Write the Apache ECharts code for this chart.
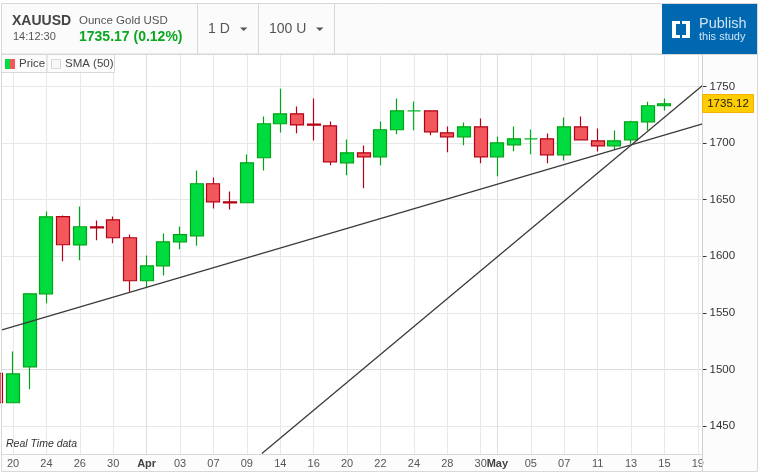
<!DOCTYPE html>
<html><head><meta charset="utf-8">
<style>html,body{margin:0;padding:0;background:#fff}#c{width:760px;height:473px}</style>
<script src="https://cdn.jsdelivr.net/npm/echarts@6/dist/echarts.min.js"></script>
</head><body><div id="c"></div>
<script>
const opens  = [1496.6,1470.5,1502.3,1566.8,1635,1610,1626,1632.1,1616.3,1578.3,1591.5,1612.7,1618,1664,1648,1647.2,1687,1717,1725.8,1716.6,1715.2,1682.5,1691.3,1687.8,1711.7,1728.4,1728.4,1709,1705.5,1714.3,1687.8,1698.4,1703.7,1703.7,1689.6,1714.3,1701.9,1697.5,1702.8,1718.7,1732.9];
const closes = [1470.5,1496,1566.8,1634.8,1610.1,1626,1625,1616.3,1578.3,1591.5,1612.7,1619,1664,1648,1647,1682.5,1717,1725.8,1716,1715.7,1683.4,1691.3,1687.8,1711.7,1728.4,1728.4,1709.9,1705.5,1714.3,1687.8,1700.2,1703.7,1703.7,1689.6,1714.3,1702.8,1697.5,1701.9,1718.7,1732.9,1734.6];
const lows   = [1465,1470,1482.5,1558.5,1595.6,1596.5,1614.1,1611.5,1568.5,1572.1,1583,1606.2,1609.2,1642.1,1641.3,1647,1675.7,1709.3,1708.7,1702.2,1680.4,1671.6,1660,1680.4,1707.8,1711.3,1706.9,1691.9,1698,1682.2,1670.7,1692.8,1690.1,1682.2,1684.5,1702.8,1692.5,1694,1699.3,1711,1728.7];
const highs  = [1500,1515.8,1567,1639.5,1636,1643.9,1631.5,1635,1619.2,1600.6,1620,1626.2,1675.7,1669.5,1657.2,1689.8,1723.4,1748,1732.2,1739.3,1719,1703.1,1697.8,1719,1739.3,1736.7,1728.4,1714.6,1718.1,1721.6,1705.7,1714.6,1711.9,1708.4,1722.5,1723.4,1712.8,1711,1719.6,1736.4,1739.3];
const tickIndex  = [1,3,5,7,9,11,13,15,17,19,21,23,25,27,29,30,32,34,36,38,40,42];
const tickLabels = ['20','24','26','30','Apr','03','07','09','14','16','20','22','24','28','30','May','05','07','11','13','15','19'];
const monthIndex = [9,30];
const yTicks = [1450,1500,1550,1600,1650,1700,1750];
const baseLevel = [1500];
const trendLowX = [0.341,42.28], trendLowY = [1535,1717];
const trendHighX = [15.9,42.28], trendHighY = [1425.7,1750.8];
const lastPrice = '1735.12';
const symbol='XAUUSD', instrument='Ounce Gold USD', clock='14:12:30', quote='1735.17 (0.12%)';

const font='"Liberation Sans",Arial,sans-serif';
const candles = opens.map((o,i)=>[i,o,closes[i],lows[i],highs[i]]);
const T=(x,y,text,size,fill,extra)=>({type:'text',z:50,silent:true,x,y,style:Object.assign({text,fill,font:(extra&&extra.f||'')+' '+size+'px '+font,textVerticalAlign:'middle',textBaseline:'middle',textAlign:(extra&&extra.a)||'left'})});
const R=(x,y,w,h,fill,stroke,z)=>({type:'rect',z:z==null?-1:z,silent:true,shape:{x,y,width:w,height:h},style:{fill,stroke:stroke||null,lineWidth:stroke?1:0}});
const L=(x1,y1,x2,y2,c,z)=>({type:'line',z:z==null?40:z,silent:true,shape:{x1,y1,x2,y2},style:{stroke:c,lineWidth:1}});
const Tri=(x,y)=>({type:'polygon',z:50,silent:true,shape:{points:[[x,y],[x+7.5,y],[x+3.75,y+3.5]]},style:{fill:'#555'}});

const graphic=[
 R(1.5,3.5,756,50.5,'#fbfbfb','#d8d8d8'),
 R(702.5,54,55,417,'#fcfcfc',null),
 R(1.5,454,701,17,'#fcfcfc',null),
 L(1.5,3.5,1.5,471.5,'#d8d8d8'), L(757.5,3.5,757.5,471.5,'#d8d8d8'),
 L(1.5,471.5,757.5,471.5,'#d8d8d8'), L(1.5,54.5,757.5,54.5,'#d8d8d8'),
 L(702.5,54,702.5,471,'#cfcfcf'), L(1.5,454.5,702.5,454.5,'#d8d8d8'),
 L(197.5,4,197.5,54,'#d8d8d8'), L(258.5,4,258.5,54,'#d8d8d8'), L(334.5,4,334.5,54,'#d8d8d8'),
 T(12,21,symbol,14,'#444',{f:'bold'}),
 T(79,21,instrument,11.5,'#555'),
 T(13,37,clock,11,'#555'),
 T(79,37,quote,14,'#0aa81e',{f:'bold'}),
 T(208,29,'1 D',14,'#555'), Tri(240,27.5),
 T(269,29,'100 U',14,'#555'), Tri(316,27.5),
 R(662,4,95,50.5,'#0067b1',null,30),
 R(672,21,8,17,'#fff',null,41), R(682,21,8,17,'#fff',null,41),
 R(676,24,4,11,'#0067b1',null,42), R(682,24,4,11,'#0067b1',null,42),
 T(699,24,'Publish',14.5,'#cfe3f3'), T(699,36.5,'this study',11,'#cfe3f3'),
 R(1.5,54.5,45.5,18,'#fcfcfc','#d8d8d8',30), R(47,54.5,67.5,18,'#fcfcfc','#d8d8d8',30),
 R(5,59,5,10,'#00dc3f',null,41), R(10,59,5,10,'#f2575c',null,41),
 R(51.5,59.5,9,9,'#f8f8f8','#d8d8d8',41),
 T(19,63.5,'Price',11.5,'#444'), T(65,63.5,'SMA (50)',11.5,'#444'),
 T(6,444.5,'Real Time data',10.5,'#333',{f:'italic'}),
 R(702.5,94.5,51,18,'#ffcc00','#f2b300',45),
 T(728,103.5,lastPrice,11.5,'#222',{a:'center'})
];

const chart=echarts.init(document.getElementById('c'),null,{renderer:'canvas',devicePixelRatio:1});
const xRange={min:0.341,max:42.28}, yRange={min:1424.8,max:1778.2};
const quiet={axisLine:{show:false},axisLabel:{show:false}};
chart.setOption({
 animation:false, backgroundColor:'#fff',
 grid:{left:2,top:54.5,width:700.5,height:400,borderWidth:0},
 xAxis:[{type:'value',...xRange,
  axisLine:{show:false},
  axisTick:{show:false,customValues:tickIndex},
  splitLine:{show:true,lineStyle:{color:'#e8e8e8',width:1}},
  axisLabel:{customValues:tickIndex,margin:4,fontSize:11,color:'#555',fontFamily:font,hideOverlap:false,showMinLabel:true,showMaxLabel:true,
   formatter:v=>{const s=tickLabels[tickIndex.indexOf(v)];return monthIndex.includes(v)?'{m|'+s+'}':s;},
   rich:{m:{fontWeight:'bold',fontSize:11,color:'#444',fontFamily:font}}}},
  {type:'value',...xRange,position:'top',...quiet,axisTick:{show:false,customValues:monthIndex},
   splitLine:{show:true,lineStyle:{color:'#dddddd',width:1}}}],
 yAxis:[{type:'value',position:'right',...yRange,scale:true,
  axisLine:{show:false},
  axisTick:{show:true,length:4,inside:false,customValues:yTicks,lineStyle:{color:'#333',width:1}},
  splitLine:{show:true,lineStyle:{color:'#e8e8e8',width:1}},
  axisLabel:{customValues:yTicks,margin:7,fontSize:11.5,color:'#333',fontFamily:font,formatter:v=>String(v)}},
  {type:'value',position:'left',...yRange,scale:true,...quiet,axisTick:{show:false,customValues:baseLevel},
   splitLine:{show:true,lineStyle:{color:'#dddddd',width:1}}}],
 series:[
  {type:'candlestick',z:3,data:candles,encode:{x:0,y:[1,2,3,4]},barWidth:13.5,clip:true,silent:true,
   itemStyle:{color:'#00dc3f',color0:'#f2575c',borderColor:'#00a414',borderColor0:'#b30014',borderColorDoji:'#00b520',borderWidth:1.2}},
  {type:'line',z:4,silent:true,showSymbol:false,symbol:'none',data:trendLowX.map((x,i)=>[x,trendLowY[i]]),lineStyle:{color:'#3a3a3a',width:1.3}},
  {type:'line',z:4,silent:true,showSymbol:false,symbol:'none',data:trendHighX.map((x,i)=>[x,trendHighY[i]]),lineStyle:{color:'#3a3a3a',width:1.3}}
 ],
 graphic:{elements:graphic}
});
</script></body></html>
